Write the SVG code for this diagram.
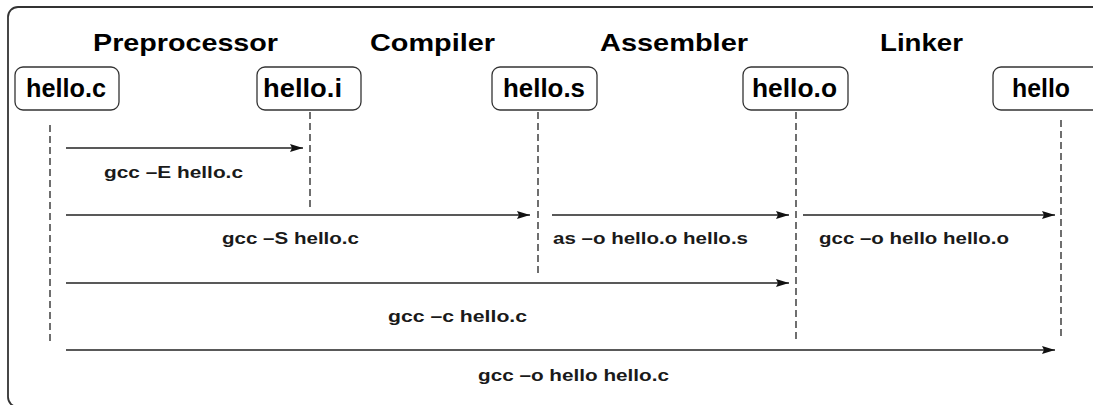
<svg xmlns="http://www.w3.org/2000/svg" width="1093" height="405" viewBox="0 0 1093 405">
  <style>
    .frame { fill: none; stroke: #333; stroke-width: 1.8; }
    .box { fill: #fff; stroke: #333; stroke-width: 1.3; }
    .title { font-family: "Liberation Sans", Arial, sans-serif; font-weight: bold; font-size: 24px; fill: #000; }
    .node { font-family: "Liberation Sans", Arial, sans-serif; font-weight: bold; font-size: 25px; fill: #000; }
    .lbl { font-family: "Liberation Sans", Arial, sans-serif; font-weight: bold; font-size: 17px; fill: #1a1a1a; }
    .life { stroke: #222; stroke-width: 1.3; stroke-dasharray: 7 4; fill: none; }
    .msg { stroke: #222; stroke-width: 1.6; fill: none; marker-end: url(#ah); }
  </style>
  <defs>
    <marker id="ah" viewBox="0 0 13 9" refX="13" refY="4.5" markerWidth="13" markerHeight="9" markerUnits="userSpaceOnUse" orient="auto">
      <path d="M0,0.5 L13,4.5 L0,8.5 L2,4.5 Z" fill="#111"/>
    </marker>
  </defs>
  <rect class="frame" x="8" y="7" width="1130" height="400" rx="10"/>
  <g id="titles">
    <text class="title" x="93" y="51" textLength="185" lengthAdjust="spacingAndGlyphs">Preprocessor</text>
    <text class="title" x="370" y="51" textLength="125" lengthAdjust="spacingAndGlyphs">Compiler</text>
    <text class="title" x="600" y="51" textLength="148" lengthAdjust="spacingAndGlyphs">Assembler</text>
    <text class="title" x="880" y="51" textLength="83" lengthAdjust="spacingAndGlyphs">Linker</text>
  </g>
  <g id="lifelines">
    <line class="life" x1="50" y1="125" x2="50" y2="345"/>
    <line class="life" x1="310" y1="112" x2="310" y2="208"/>
    <line class="life" x1="538" y1="112" x2="538" y2="273"/>
    <line class="life" x1="796" y1="112" x2="796" y2="339"/>
    <line class="life" x1="1061" y1="120" x2="1061" y2="340"/>
  </g>
  <g id="node-hello-c">
    <rect class="box" x="15" y="67" width="104" height="43" rx="8"/>
    <text class="node" x="26" y="97" textLength="80" lengthAdjust="spacingAndGlyphs">hello.c</text>
  </g>
  <g id="node-hello-i">
    <rect class="box" x="257" y="67" width="104" height="43" rx="8"/>
    <text class="node" x="263" y="97" textLength="79" lengthAdjust="spacingAndGlyphs">hello.i</text>
  </g>
  <g id="node-hello-s">
    <rect class="box" x="492" y="67" width="105" height="43" rx="8"/>
    <text class="node" x="503" y="97" textLength="82" lengthAdjust="spacingAndGlyphs">hello.s</text>
  </g>
  <g id="node-hello-o">
    <rect class="box" x="743" y="67" width="105" height="43" rx="8"/>
    <text class="node" x="752" y="97" textLength="85" lengthAdjust="spacingAndGlyphs">hello.o</text>
  </g>
  <g id="node-hello">
    <rect class="box" x="993" y="67" width="110" height="43" rx="8"/>
    <text class="node" x="1012" y="97" textLength="58" lengthAdjust="spacingAndGlyphs">hello</text>
  </g>
  <g id="connectors">
    <line class="msg" x1="66" y1="148" x2="303" y2="148"/>
    <line class="msg" x1="66" y1="215" x2="530" y2="215"/>
    <line class="msg" x1="552" y1="215" x2="789" y2="215"/>
    <line class="msg" x1="803" y1="215" x2="1055" y2="215"/>
    <line class="msg" x1="66" y1="283" x2="789" y2="283"/>
    <line class="msg" x1="66" y1="350" x2="1055" y2="350"/>
    <text class="lbl" x="104" y="178" textLength="139" lengthAdjust="spacingAndGlyphs">gcc –E hello.c</text>
    <text class="lbl" x="222" y="244" textLength="137" lengthAdjust="spacingAndGlyphs">gcc –S hello.c</text>
    <text class="lbl" x="553" y="244" textLength="195" lengthAdjust="spacingAndGlyphs">as –o hello.o hello.s</text>
    <text class="lbl" x="819" y="244" textLength="190" lengthAdjust="spacingAndGlyphs">gcc –o hello hello.o</text>
    <text class="lbl" x="388" y="322" textLength="139" lengthAdjust="spacingAndGlyphs">gcc –c hello.c</text>
    <text class="lbl" x="478" y="381" textLength="191" lengthAdjust="spacingAndGlyphs">gcc –o hello hello.c</text>
  </g>
</svg>
